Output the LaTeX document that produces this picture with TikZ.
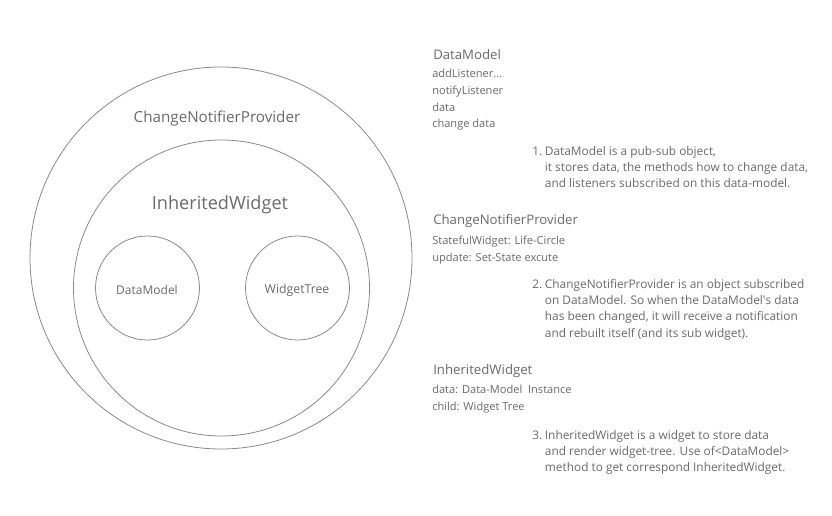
\documentclass[tikz,border=0pt]{standalone}
\usepackage{fontspec}
\setmainfont{Open Sans}
\definecolor{txt}{HTML}{6A6A6A}
\definecolor{ln}{HTML}{8A8A8A}
\newcommand{\numline}[1]{\makebox[9.5pt][l]{#1}}
\newcommand{\indline}{\hspace*{9.5pt}}
\begin{document}
\begin{tikzpicture}[x=0.75pt,y=-0.75pt,
  ring/.style={draw=ln,line width=0.6pt,circle,inner sep=0pt},
  lbl/.style={text=txt,inner sep=0pt},
  ttl/.style={text=txt,inner sep=0pt,anchor=base west,font=\fontsize{9.9pt}{12pt}\selectfont},
  lst/.style={text=txt,inner sep=0pt,anchor=north west,align=left,font=\fontsize{8.3pt}{12.5pt}\selectfont},
  par/.style={text=txt,inner sep=0pt,anchor=north west,align=left,font=\fontsize{8.9pt}{12.2pt}\selectfont},
]
\useasboundingbox (0,0) rectangle (832,516);
% circles
\node[ring,minimum size=382*0.75pt] (outer) at (221,258) {};
\node[ring,minimum size=296*0.75pt] (inner) at (221.5,288) {};
\node[ring,minimum size=104*0.75pt] (dmc) at (147.5,288) {};
\node[ring,minimum size=104*0.75pt] (wtc) at (297.5,288) {};
% circle labels
\node[lbl,font=\fontsize{11.4pt}{14pt}\selectfont] (cnpl) at (217,119) {ChangeNotifierProvider};
\node[lbl,font=\fontsize{13.6pt}{16pt}\selectfont] (iwl) at (220,205) {InheritedWidget};
\node[lbl,font=\fontsize{9pt}{11pt}\selectfont] (dml) at (147,290) {DataModel};
\node[lbl,font=\fontsize{9.2pt}{11pt}\selectfont] (wtl) at (297,290) {WidgetTree};
% right side: DataModel
\node[ttl] (t1) at (433,60) {DataModel};
\node[lst] (l1) at (432,69) {addListener...\\notifyListener\\data\\change data};
\node[par] (n1) at (532,146) {\numline{1.}DataModel is a pub-sub object,\\
\indline it stores data, the methods how to change data,\\
\indline and listeners subscribed on this data-model.};
% ChangeNotifierProvider
\node[ttl] (t2) at (433,225) {ChangeNotifierProvider};
\node[lst] (l2) at (432,236) {StatefulWidget: Life-Circle\\update: Set-State excute};
\node[par] (n2) at (532,279) {\numline{2.}ChangeNotifierProvider is an object subscribed\\
\indline on DataModel. So when the DataModel\textquotesingle s data\\
\indline has been changed, it will receive a notification\\
\indline and rebuilt itself (and its sub widget).};
% InheritedWidget
\node[ttl] (t3) at (433,375) {InheritedWidget};
\node[lst] (l3) at (432,385) {data: Data-Model\ \ Instance\\child: Widget Tree};
\node[par] (n3) at (532,430) {\numline{3.}InheritedWidget is a widget to store data\\
\indline and render widget-tree. Use of<DataModel>\\
\indline method to get correspond InheritedWidget.};
\end{tikzpicture}
\end{document}
